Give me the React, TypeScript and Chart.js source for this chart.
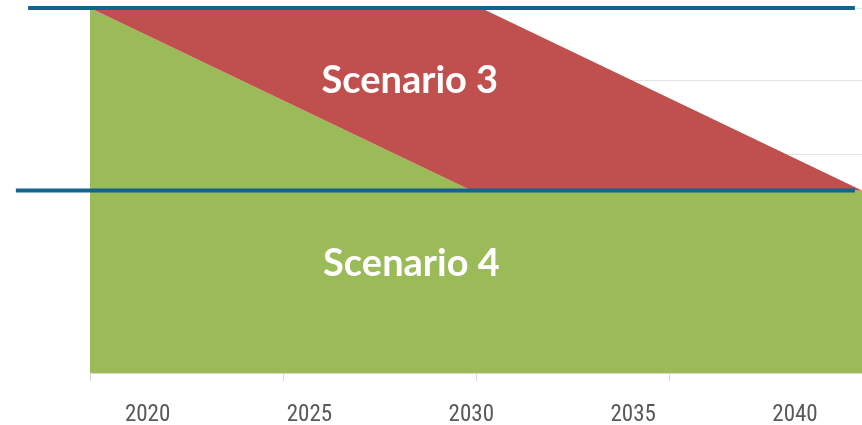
import { useEffect, useRef } from "react";
import { Chart, registerables } from "chart.js";

Chart.register(...registerables);

// ---- data ----
const X_MIN = 2018.22;
const X_MAX = 2042.07;
const TICK_YEARS = [2020, 2025, 2030, 2035, 2040];
const Y_MIN = 0;
const Y_MAX = 5;

const SCENARIO4_X = [2018.22, 2030.0, 2042.07];
const SCENARIO4_Y = [5, 2.5, 2.5];

const SCENARIO3_X = [2018.22, 2030.3, 2042.07];
const SCENARIO3_Y = [5, 5, 2.5];

const UPPER_LINE_X = [2016.31, 2041.85];
const UPPER_LINE_Y = [5, 5];

const LOWER_LINE_X = [2015.93, 2041.85];
const LOWER_LINE_Y = [2.5, 2.5];

const LABELS = ["Scenario 3", "Scenario 4"];
const LABEL_X = [2028.1, 2028.15];
const LABEL_Y = [4.0, 1.5];

const GREEN = "#9BBB59";
const RED = "#C0504D";
const BLUE = "#12638F";

const pts = (xs: number[], ys: number[]) => xs.map((x, i) => ({ x, y: ys[i] }));

const labelPlugin = {
  id: "scenarioLabels",
  afterDatasetsDraw(chart: any) {
    const { ctx, scales } = chart;
    const x = scales.x;
    const y = scales.y;
    ctx.save();
    ctx.font = "bold 38px Lato, 'Open Sans', sans-serif";
    ctx.fillStyle = "#FFFFFF";
    ctx.textAlign = "center";
    ctx.textBaseline = "middle";
    LABELS.forEach((t, i) => {
      ctx.fillText(t, x.getPixelForValue(LABEL_X[i]), y.getPixelForValue(LABEL_Y[i]));
    });
    ctx.restore();
  },
};

export default function App() {
  const ref = useRef<HTMLCanvasElement | null>(null);

  useEffect(() => {
    if (!ref.current) return;
    const chart = new Chart(ref.current, {
      type: "line",
      data: {
        datasets: [
          { label: "Scenario 4", data: pts(SCENARIO4_X, SCENARIO4_Y), xAxisID: "x", yAxisID: "y", fill: "origin", backgroundColor: GREEN, borderColor: GREEN, borderWidth: 0, pointRadius: 0, order: 3 },
          { label: "Scenario 3", data: pts(SCENARIO3_X, SCENARIO3_Y), xAxisID: "x", yAxisID: "y", fill: 0, backgroundColor: RED, borderColor: RED, borderWidth: 0, pointRadius: 0, order: 2 },
          { label: "upper", data: pts(UPPER_LINE_X, UPPER_LINE_Y), xAxisID: "x", yAxisID: "y", fill: false, borderColor: BLUE, borderWidth: 4, pointRadius: 0, clip: false, order: 1 },
          { label: "lower", data: pts(LOWER_LINE_X, LOWER_LINE_Y), xAxisID: "x", yAxisID: "y", fill: false, borderColor: BLUE, borderWidth: 4, pointRadius: 0, clip: false, order: 0 },
        ],
      },
      options: {
        animation: false,
        responsive: false,
        devicePixelRatio: 1,
        layout: { padding: { left: 90, top: 8, right: 0, bottom: 0 } },
        plugins: { legend: { display: false }, tooltip: { enabled: false } },
        scales: {
          x: {
            type: "linear", position: "bottom", weight: 1, min: X_MIN, max: X_MAX,
            grid: { display: false }, border: { display: false },
            ticks: {
              autoSkip: false, maxRotation: 0, padding: 12, color: "#595959",
              font: { family: "'Roboto Condensed', 'Open Sans', sans-serif", size: 23 },
              callback: (v: any) => String(v),
            },
            afterBuildTicks: (s: any) => { s.ticks = TICK_YEARS.map((v) => ({ value: v })); },
            afterFit: (s: any) => { s.height = 44; },
          },
          x2: {
            type: "linear", position: "bottom", weight: 0, min: 0, max: 4,
            ticks: { display: false, stepSize: 1 },
            grid: { drawOnChartArea: false, drawTicks: true, tickLength: 8, color: "#D9D9D9" },
            border: { display: true, color: "#D9D9D9" },
            afterFit: (s: any) => { s.height = 8; },
          },
          y: {
            type: "linear", position: "left", min: Y_MIN, max: Y_MAX,
            ticks: { display: false, stepSize: 1 },
            grid: { color: "#E3E3E3", drawTicks: false }, border: { display: false },
            afterFit: (s: any) => { s.width = 0; },
          },
        },
      },
      plugins: [labelPlugin],
    });
    return () => chart.destroy();
  }, []);

  return (
    <div style={{ position: "absolute", left: 0, top: 0, width: 862, height: 425, background: "#fff" }}>
      <canvas ref={ref} width={862} height={425} style={{ display: "block" }} />
    </div>
  );
}
